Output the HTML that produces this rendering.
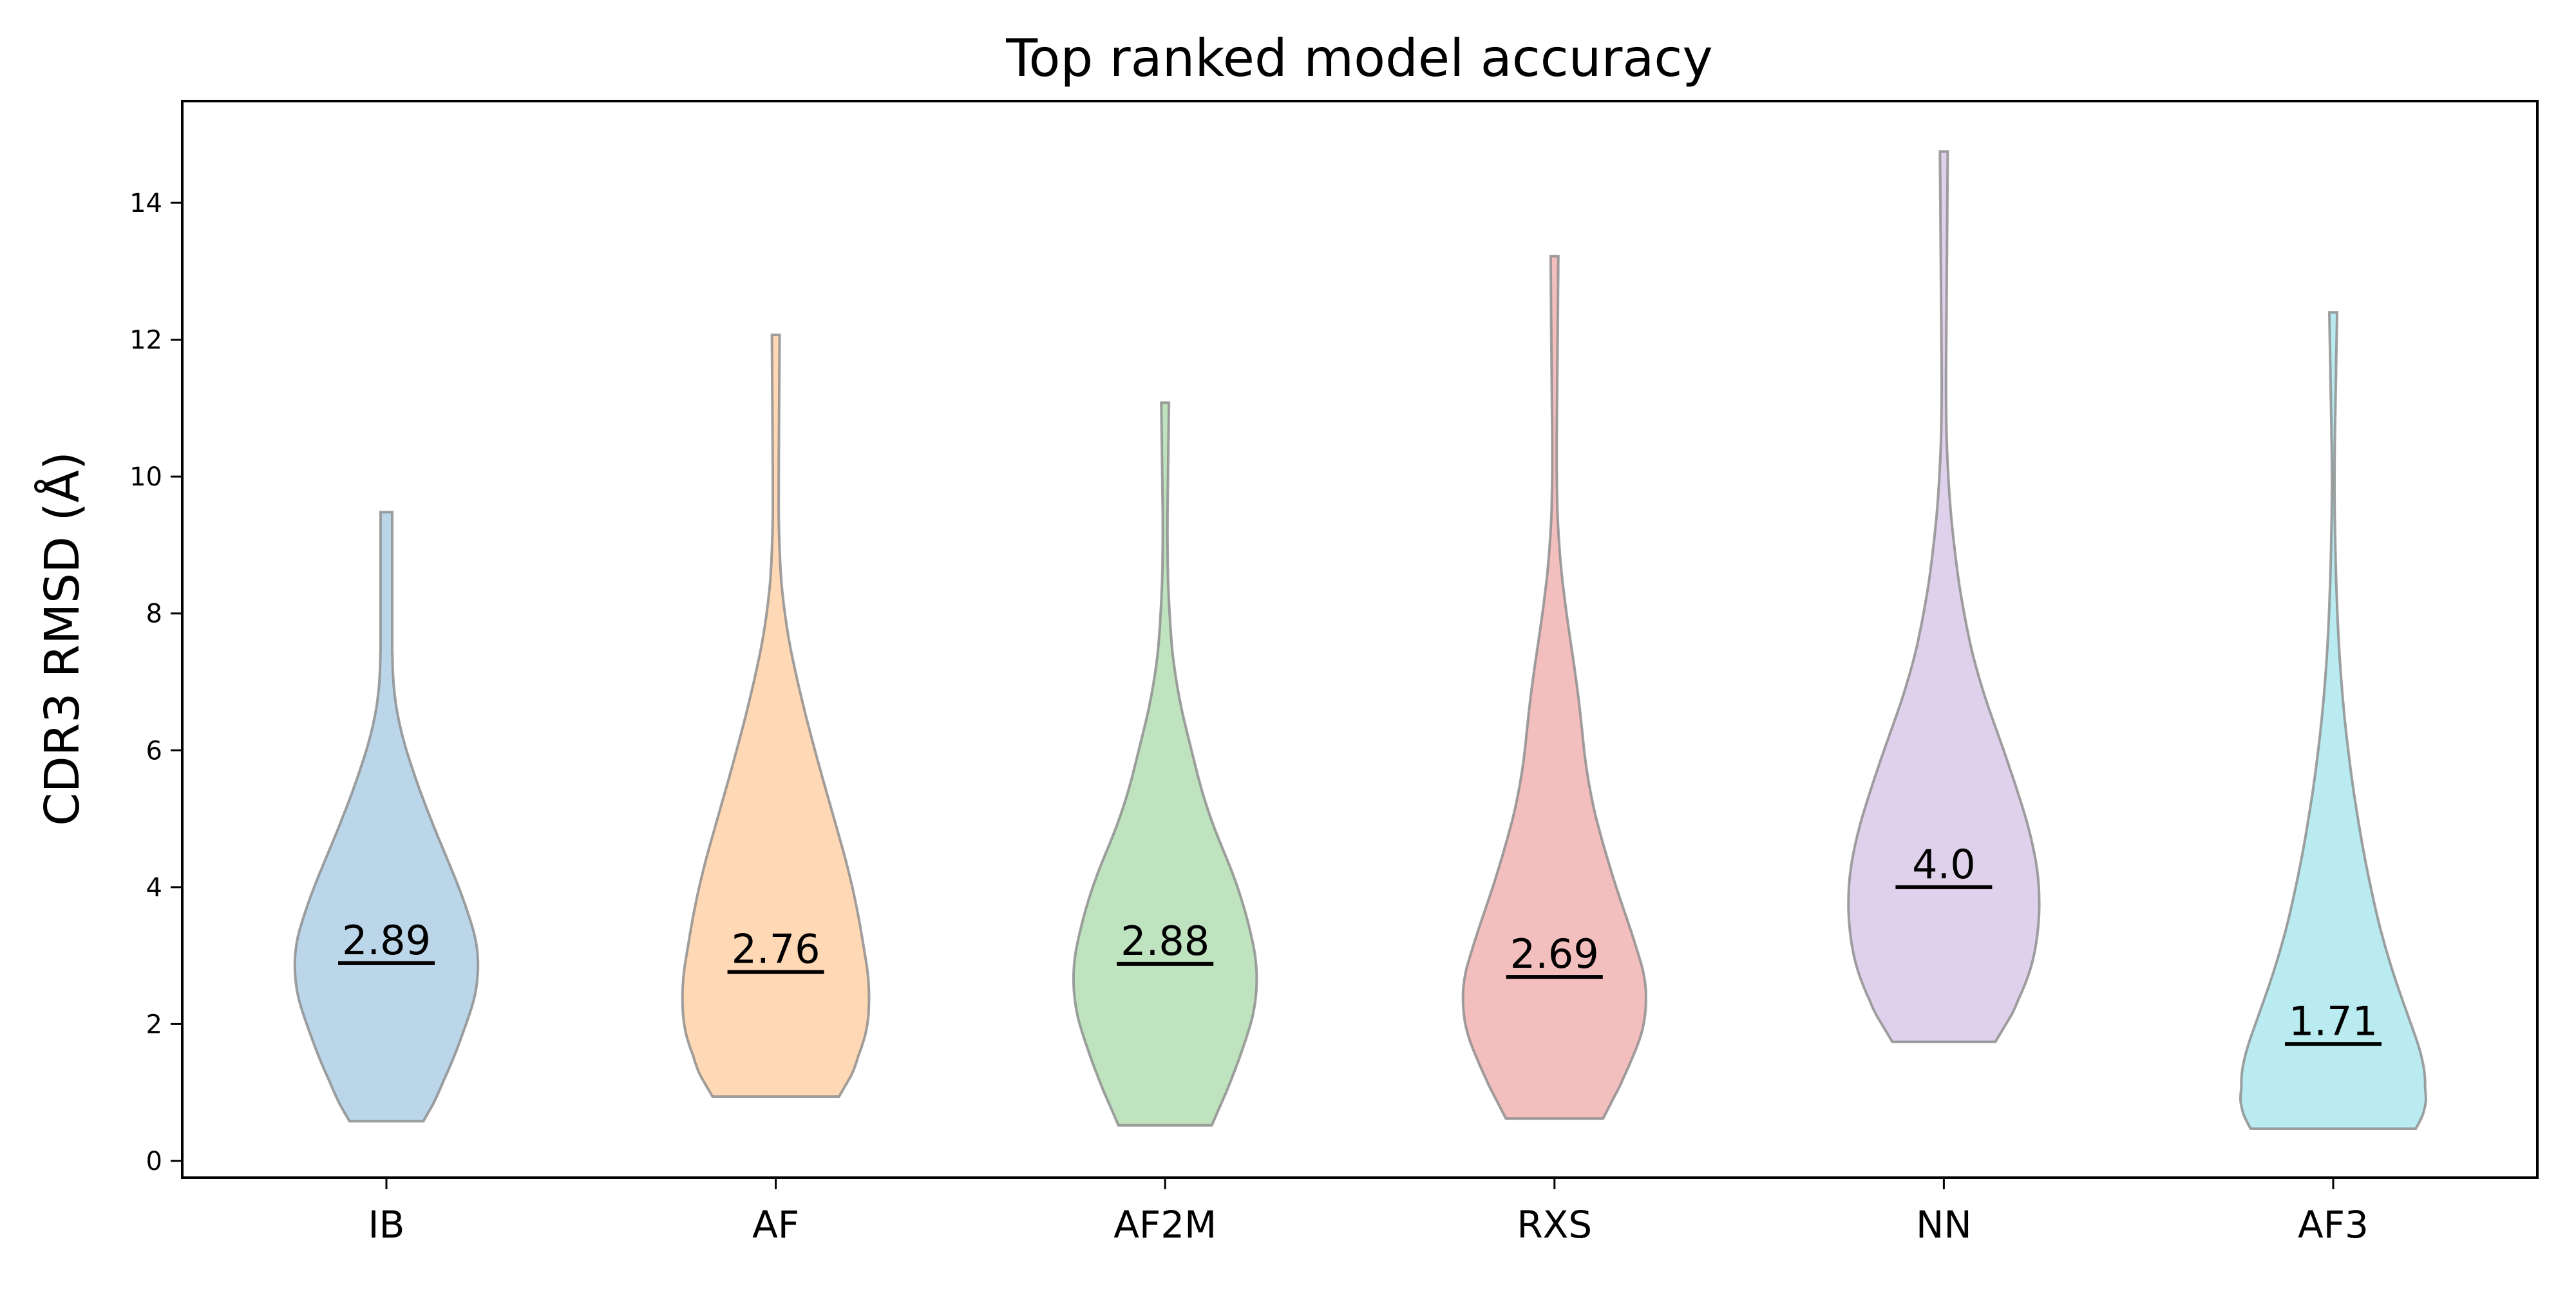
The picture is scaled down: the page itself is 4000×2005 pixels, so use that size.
<!DOCTYPE html>
<html><head><meta charset="utf-8"><style>
html,body{margin:0;padding:0;background:#fff;}
svg text{font-family:"DejaVu Sans","Liberation Sans",sans-serif;}
</style></head><body>
<svg id="chart" width="4000" height="2000" viewBox="0 0 4000 2000" xmlns="http://www.w3.org/2000/svg">
<rect width="4000" height="2000" fill="#fff"/>
<text x="2111" y="118" font-size="80" text-anchor="middle">Top ranked model accuracy</text>
<text transform="translate(122,992) rotate(-90)" font-size="74" text-anchor="middle">CDR3 RMSD (Å)</text>
<g id="plot"></g>
<rect x="283" y="157" width="3657" height="1672" fill="none" stroke="#000" stroke-width="4"/>
</svg>
<script>
const categories = ["IB","AF","AF2M","RXS","NN","AF3"];
const medians = [2.89,2.76,2.88,2.69,4.0,1.71];
const medianLabels = ["2.89","2.76","2.88","2.69","4.0","1.71"];
const yTicks = [0,2,4,6,8,10,12,14];
const colors = ["#1f77b4","#ff7f0e","#2ca02c","#d62728","#9467bd","#17becf"];
// density profiles: y values and relative half-widths
const profY_IB = [0.58,1.0,2.0,2.8,3.5,4.0,5.0,5.5,6.0,6.5,7.0,8.0,9.48];
const profW_IB = [0.38,0.55,0.83,1.0,0.88,0.75,0.45,0.32,0.2,0.1,0.06,0.06,0.06];
const profY_AF = [0.94,1.5,2.3,3.0,4.0,5.0,6.0,7.0,8.0,9.0,10.0,12.07];
const profW_AF = [0.65,0.88,1.0,0.92,0.8,0.6,0.4,0.22,0.08,0.03,0.03,0.04];
const profY_AF2M = [0.52,1.5,2.6,3.5,4.0,5.0,6.0,7.0,8.0,9.0,11.08];
const profW_AF2M = [0.48,0.78,1.0,0.85,0.77,0.45,0.27,0.1,0.04,0.02,0.04];
const profY_RXS = [0.62,1.5,2.3,3.0,3.5,4.5,5.5,6.5,7.0,8.0,9.0,10.0,13.22];
const profW_RXS = [0.5,0.82,1.0,0.88,0.75,0.52,0.34,0.27,0.23,0.12,0.04,0.02,0.04];
const profY_NN = [1.74,2.5,3.2,3.8,4.5,5.0,6.0,7.0,8.0,9.0,10.0,11.0,14.75];
const profW_NN = [0.53,0.85,0.97,1.0,0.95,0.85,0.62,0.36,0.2,0.1,0.04,0.02,0.04];
const profY_AF3 = [0.47,0.8,1.2,2.0,3.0,4.0,5.0,6.0,7.0,8.0,9.0,10.0,12.4];
const profW_AF3 = [0.85,0.97,1.0,0.8,0.55,0.38,0.25,0.15,0.08,0.04,0.02,0.01,0.04];
const profY = [profY_IB,profY_AF,profY_AF2M,profY_RXS,profY_NN,profY_AF3];
const profW = [profW_IB,profW_AF,profW_AF2M,profW_RXS,profW_NN,profW_AF3];

const NS="http://www.w3.org/2000/svg";
const plot=document.getElementById('plot');
const svg=document.getElementById('chart');
function xs(i){return 600+(3623-600)/5*i;}
function ys(v){return 1803-(1803-315)/14*v;}
const maxHalf=151;
function mk(tag,attrs,parent){const e=document.createElementNS(NS,tag);for(const k in attrs)e.setAttribute(k,attrs[k]);(parent||svg).appendChild(e);return e;}
function lin(Y,W,y){
  let k=0;while(k<Y.length-2&&y>Y[k+1])k++;
  const t=Math.min(Math.max((y-Y[k])/(Y[k+1]-Y[k]),0),1);
  return W[k]+(W[k+1]-W[k])*t;
}
yTicks.forEach(v=>{
  const t=mk('line',{x1:265,x2:283,y1:ys(v),y2:ys(v),stroke:'#000','stroke-width':3});
  
  
  const l=mk('text',{x:252,y:ys(v)+14,'font-size':40,'text-anchor':'end'});
  l.textContent=v;
  
  
});
categories.forEach((c,i)=>{
  const cx=xs(i),Y=profY[i],W=profW[i];
  const y0=Y[0],y1=Y[Y.length-1];
  const n=240,raw=[];
  for(let j=0;j<=n;j++){raw.push(lin(Y,W,y0+(y1-y0)*j/n));}
  const win=Math.round(n*0.6/(y1-y0));
  const sm=raw.map((v,j)=>{const w=Math.min(win,j,n-j);let s=0,cnt=0;for(let q=-w;q<=w;q++){s+=raw[j+q];cnt++;}return Math.max(s/cnt,0.012);});
  const right=[],left=[];
  for(let j=0;j<=n;j++){const y=y0+(y1-y0)*j/n;const w=sm[j]*maxHalf;right.push([cx+w,ys(y)]);left.push([cx-w,ys(y)]);}
  const pts=right.concat(left.reverse());
  const d='M'+pts.map(p=>p[0].toFixed(1)+','+p[1].toFixed(1)).join('L')+'Z';
  const p=mk('path',{d:d,fill:colors[i],'fill-opacity':0.3,stroke:'#8a8a8a','stroke-opacity':0.8,'stroke-width':4},plot);
  
  
  const m=mk('line',{x1:cx-75,x2:cx+75,y1:ys(medians[i]),y2:ys(medians[i]),stroke:'#000','stroke-width':6},plot);
  
  
  const mt=mk('text',{x:cx,y:ys(medians[i])-14,'font-size':62,'text-anchor':'middle'},plot);
  mt.textContent=medianLabels[i];
  
  
  const t=mk('line',{x1:cx,x2:cx,y1:1829,y2:1847,stroke:'#000','stroke-width':3});
  
  
  const l=mk('text',{x:cx,y:1922,'font-size':58,'text-anchor':'middle'});
  l.textContent=c;
  
  
});
</script>
</body></html>
